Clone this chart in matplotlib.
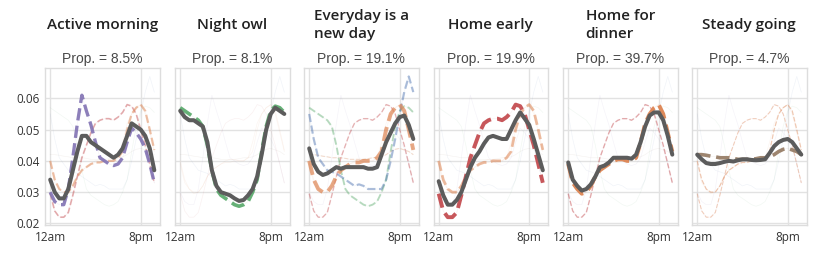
import matplotlib
matplotlib.use('Agg')
from matplotlib import pyplot as plt

hours = list(range(24))

# component profiles (share of activity per hour)
morning = [0.030, 0.027, 0.026, 0.026, 0.031, 0.041, 0.052, 0.061, 0.056, 0.0515, 0.046, 0.041,
           0.040, 0.039, 0.0385, 0.039, 0.041, 0.046, 0.0505, 0.049, 0.047, 0.044, 0.039, 0.033]
owl = [0.057, 0.056, 0.055, 0.054, 0.053, 0.051, 0.045, 0.037, 0.031, 0.029, 0.028, 0.027,
       0.026, 0.0255, 0.026, 0.027, 0.030, 0.034, 0.043, 0.051, 0.056, 0.0575, 0.057, 0.0555]
lateday = [0.055, 0.047, 0.041, 0.039, 0.037, 0.0365, 0.036, 0.035, 0.034, 0.033, 0.032, 0.0325,
           0.032, 0.031, 0.031, 0.031, 0.031, 0.034, 0.040, 0.047, 0.055, 0.062, 0.067, 0.062]
evening = [0.040, 0.034, 0.031, 0.030, 0.030, 0.032, 0.035, 0.037, 0.038, 0.039, 0.0395, 0.0395,
           0.040, 0.040, 0.040, 0.041, 0.043, 0.050, 0.055, 0.057, 0.058, 0.056, 0.050, 0.0435]
early = [0.0295, 0.024, 0.022, 0.022, 0.0235, 0.029, 0.035, 0.041, 0.045, 0.049, 0.052, 0.053,
         0.0535, 0.0535, 0.053, 0.054, 0.0555, 0.058, 0.0575, 0.055, 0.050, 0.045, 0.039, 0.033]
dinner = [0.039, 0.033, 0.031, 0.0295, 0.030, 0.032, 0.035, 0.037, 0.038, 0.039, 0.040, 0.0405,
          0.0405, 0.040, 0.040, 0.041, 0.046, 0.052, 0.055, 0.057, 0.058, 0.055, 0.049, 0.043]
steady = [0.042, 0.042, 0.0418, 0.0415, 0.0413, 0.041, 0.041, 0.041, 0.0408, 0.0405, 0.0405, 0.0405,
          0.0405, 0.0407, 0.041, 0.041, 0.0413, 0.042, 0.043, 0.0437, 0.044, 0.0435, 0.043, 0.042]

# cluster averages
avg_morning = [0.034, 0.030, 0.028, 0.028, 0.031, 0.037, 0.043, 0.048, 0.048, 0.046, 0.045, 0.044,
               0.043, 0.042, 0.041, 0.042, 0.044, 0.048, 0.052, 0.051, 0.050, 0.048, 0.044, 0.037]
avg_owl = [0.056, 0.054, 0.053, 0.053, 0.052, 0.051, 0.046, 0.037, 0.032, 0.030, 0.0295, 0.029,
           0.028, 0.0272, 0.0275, 0.029, 0.031, 0.035, 0.042, 0.050, 0.055, 0.057, 0.056, 0.055]
avg_newday = [0.044, 0.039, 0.0365, 0.0355, 0.036, 0.037, 0.038, 0.0375, 0.038, 0.038, 0.038, 0.038,
              0.038, 0.0375, 0.0375, 0.038, 0.042, 0.046, 0.049, 0.052, 0.054, 0.0545, 0.0515, 0.047]
avg_early = [0.0335, 0.029, 0.026, 0.026, 0.0275, 0.030, 0.034, 0.038, 0.041, 0.043, 0.0455, 0.0475,
             0.048, 0.0475, 0.047, 0.047, 0.050, 0.053, 0.0555, 0.0535, 0.0515, 0.047, 0.042, 0.037]
avg_dinner = [0.0395, 0.034, 0.032, 0.0305, 0.031, 0.0325, 0.035, 0.038, 0.0385, 0.0395, 0.041, 0.041,
              0.041, 0.041, 0.0407, 0.042, 0.046, 0.051, 0.0545, 0.0555, 0.0555, 0.053, 0.048, 0.042]
avg_steady = [0.042, 0.0405, 0.0393, 0.039, 0.039, 0.0393, 0.0397, 0.040, 0.0398, 0.0402, 0.0405, 0.0405,
              0.0403, 0.0402, 0.0403, 0.0405, 0.0425, 0.0447, 0.046, 0.0467, 0.047, 0.046, 0.044, 0.042]

titles = ['Active morning', 'Night owl', 'Everyday is a\nnew day', 'Home early',
          'Home for\ndinner', 'Steady going']
props = [8.5, 8.1, 19.1, 19.9, 39.7, 4.7]
averages = [avg_morning, avg_owl, avg_newday, avg_early, avg_dinner, avg_steady]

blue, orange, green, red, purple, brown = '#4C72B0', '#DD8452', '#55A868', '#C44E52', '#8172B3', '#937860'
components = [(morning, purple), (owl, green), (lateday, blue), (evening, orange),
              (early, red), (dinner, orange), (steady, brown)]

# dashed components per panel: (profile, color, linewidth, alpha)
layers = [
    [(early, red, 1.2, 0.45), (evening, orange, 1.6, 0.5), (morning, purple, 2.4, 0.9)],
    [(owl, green, 2.6, 0.9)],
    [(early, red, 1.0, 0.4), (steady, orange, 0.8, 0.25), (owl, green, 1.4, 0.4),
     (lateday, blue, 1.6, 0.45), (evening, orange, 2.8, 0.7)],
    [(evening, orange, 2.0, 0.55), (early, red, 2.8, 0.95)],
    [(early, red, 1.0, 0.45), (dinner, orange, 2.8, 0.95)],
    [(evening, orange, 0.9, 0.4), (early, orange, 0.8, 0.35), (steady, brown, 2.6, 0.9)],
]

plt.rcParams['font.family'] = ['Open Sans', 'DejaVu Sans']
fig = plt.figure(figsize=(8.22, 2.6), dpi=100)
W, H = 822, 260
lefts = [45, 175, 304, 433.5, 563, 692]

for i in range(6):
    ax = fig.add_axes([lefts[i] / W, 35 / H, 114.5 / W, 157 / H])
    for prof, col in components:
        ax.plot(hours, prof, color=col, lw=0.5, alpha=0.08, zorder=1)
    for prof, col, lw, a in layers[i]:
        ax.plot(hours, prof, '--', color=col, lw=lw, alpha=a, zorder=2)
    ax.plot(hours, averages[i], color='#5c5c5c', lw=2.9, solid_capstyle='round',
            solid_joinstyle='round', zorder=3)

    ax.set_xlim(-1.15, 24.15)
    ax.set_ylim(0.0195, 0.0697)
    ax.set_xticks([0, 20])
    ax.set_xticklabels(['12am', '8pm'])
    ax.set_yticks([0.02, 0.03, 0.04, 0.05, 0.06])
    if i > 0:
        ax.set_yticklabels([])
    ax.tick_params(length=0, labelsize=8.5, labelcolor='#333333', pad=4)
    ax.grid(True, color='#e2e2e2', lw=1)
    ax.set_axisbelow(True)
    for s in ax.spines.values():
        s.set_color('#dddddd')
        s.set_linewidth(1)

    ax.text(0.5, 1.06, 'Prop. = %.1f%%' % props[i], transform=ax.transAxes,
            ha='center', va='center', fontsize=10, color='#4a4a4a', family='Liberation Sans')
    fig.text((lefts[i] + 57.25) / W, 1 - 25 / H, titles[i], ha='center', va='center',
             multialignment='left', fontsize=11, fontweight='semibold', color='#222222',
             linespacing=1.3)

plt.savefig('out.png', dpi=100)
